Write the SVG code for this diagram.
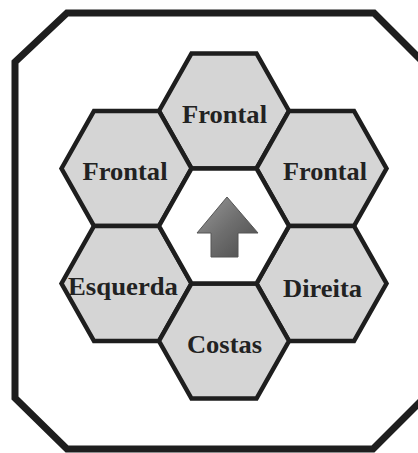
<svg xmlns="http://www.w3.org/2000/svg" width="418" height="453" viewBox="0 0 418 453">
<defs>
<style>
.hex{fill:#d5d5d5;stroke:#1e1e1e;stroke-width:4.5;stroke-linejoin:miter}
.hexc{fill:#ffffff;stroke:#1e1e1e;stroke-width:4.5}
.lbl{font-family:"Liberation Serif","Times New Roman",serif;font-weight:bold;font-size:26px;fill:#222;text-anchor:middle}
</style>
<polygon id="hexshape" points="-65,0 -32.5,-57.5 32.5,-57.5 65,0 32.5,57.5 -32.5,57.5"/>
<linearGradient id="ag" x1="0" y1="0" x2="1" y2="1">
<stop offset="0" stop-color="#9a9a9a"/>
<stop offset="0.5" stop-color="#6e6e6e"/>
<stop offset="1" stop-color="#4a4a4a"/>
</linearGradient>
</defs>
<rect width="418" height="453" fill="#ffffff"/>
<g id="frame">
<path d="M67,13 L374,13 L424,63 L424,398 L373,449 L67,449 L15,398 L15,62 Z" fill="none" stroke="#1e1e1e" stroke-width="7" stroke-linejoin="miter"/>
</g>
<g id="connectors"></g>
<g id="node-top"><use href="#hexshape" class="hex" x="224" y="111"/><text class="lbl" x="224.5" y="123" textLength="85" lengthAdjust="spacingAndGlyphs">Frontal</text></g>
<g id="node-ul"><use href="#hexshape" class="hex" x="126.5" y="168.5"/><text class="lbl" x="125" y="180" textLength="85" lengthAdjust="spacingAndGlyphs">Frontal</text></g>
<g id="node-ur"><use href="#hexshape" class="hex" x="321.5" y="168.5"/><text class="lbl" x="325" y="180" textLength="84" lengthAdjust="spacingAndGlyphs">Frontal</text></g>
<g id="node-ll"><use href="#hexshape" class="hex" x="126.5" y="283.5"/><text class="lbl" x="123" y="295" textLength="110" lengthAdjust="spacingAndGlyphs">Esquerda</text></g>
<g id="node-lr"><use href="#hexshape" class="hex" x="321.5" y="283.5"/><text class="lbl" x="322.5" y="297" textLength="79" lengthAdjust="spacingAndGlyphs">Direita</text></g>
<g id="node-bottom"><use href="#hexshape" class="hex" x="224" y="341"/><text class="lbl" x="224.5" y="353" textLength="75" lengthAdjust="spacingAndGlyphs">Costas</text></g>
<g id="node-center"><use href="#hexshape" class="hexc" x="224" y="226"/>
<polygon points="227,197 258,233 238,233 238,257 211,257 211,233 197,233" fill="url(#ag)" stroke="#555" stroke-width="1"/>
</g>
</svg>
